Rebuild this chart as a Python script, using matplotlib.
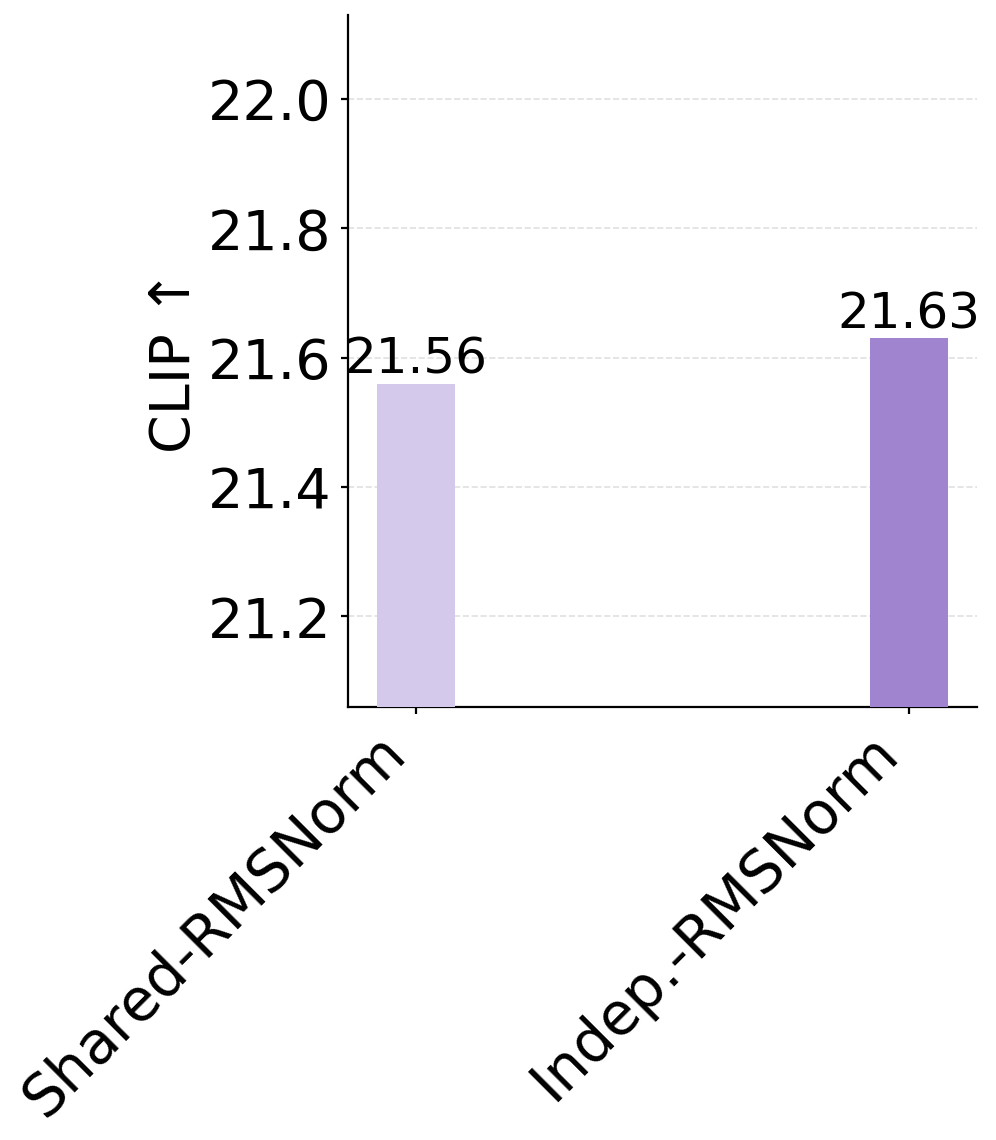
import matplotlib
matplotlib.use("Agg")
import matplotlib.pyplot as plt

categories = ["Shared-RMSNorm", "Indep.-RMSNorm"]
values = [21.56, 21.63]
colors = ["#d4c9ea", "#a084d0"]
ylabel = "CLIP ↑"

fig = plt.figure(figsize=(4.98, 5.7), dpi=200)
ax = fig.add_axes([0.3494, 0.3798, 0.6316, 0.607])
x = list(range(len(categories)))
bars = ax.bar(x, values, width=0.16, color=colors, zorder=3)
for b, v in zip(bars, values):
    ax.text(b.get_x() + b.get_width() / 2, v, f"{v:.2f}", ha="center", va="bottom", fontsize=18, zorder=4)
ax.set_ylim(min(values) - 0.5, max(values) + 0.5)
ax.set_yticks([21.2, 21.4, 21.6, 21.8, 22.0])
ax.set_yticklabels(["21.2", "21.4", "21.6", "21.8", "22.0"], fontsize=20)
ax.set_xticks(x)
ax.set_xticklabels(categories, rotation=45, ha="right", fontsize=21)
ax.tick_params(length=2.5, width=0.8)
ax.set_ylabel(ylabel, fontsize=20, labelpad=2)
ax.grid(axis="y", linestyle="--", color="#cccccc", alpha=0.6, linewidth=0.6, zorder=0)
ax.spines["top"].set_visible(False)
ax.spines["right"].set_visible(False)
ax.spines["left"].set_linewidth(0.8)
ax.spines["bottom"].set_linewidth(0.8)
fig.savefig("out.png", dpi=200)
